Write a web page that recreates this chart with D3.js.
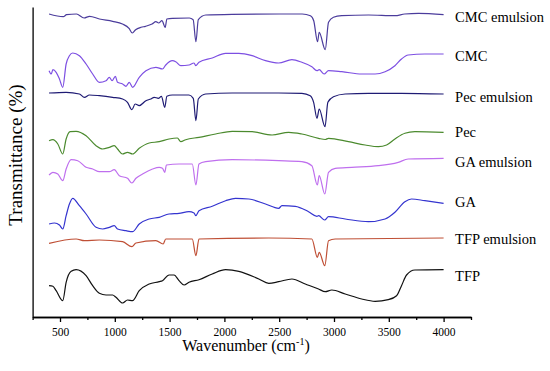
<!DOCTYPE html>
<html lang="en">
<head>
<meta charset="UTF-8">
<script src="https://d3js.org/d3.v7.min.js"></script>
<style>
body { margin: 0; background: #fff; }
svg text { font-family: "Liberation Serif", "Times New Roman", Times, serif; fill: #000; }
.axis path, .axis line { stroke: #000; stroke-width: 1.3; }
.axis text { font-size: 11.5px; font-family: "Liberation Serif", "Times New Roman", Times, serif; }
.spec { fill: none; stroke-width: 1.2; stroke-linejoin: round; }
</style>
</head>
<body>
<svg width="550" height="371"></svg>
<script>
// spectra, [wavenumber cm-1, transmittance (offset, a.u.)]
const cmcEmulsion = [[400,303],[530,300.3],[560,302.3],[650,303],[720,299],[770,300.7],[860,298],[980,295.7],[1070,293],[1130,288.7],[1160,284],[1190,287.3],[1240,289.7],[1280,290.7],[1340,293],[1375,295.3],[1400,294],[1430,296.3],[1460,289.7],[1475,298],[1525,298.7],[1680,299],[1715,297.3],[1740,275.3],[1762,297.3],[1830,302],[2070,302.7],[2500,303],[2710,303],[2785,301.3],[2815,296.3],[2850,275.3],[2865,284.7],[2920,267.3],[2950,294.7],[2995,299.7],[3070,301.3],[3315,302],[3555,301.3],[3645,303],[3770,303.7],[4000,302.3]];
const cmc = [[400,246.3],[420,243],[435,247.3],[465,244.7],[495,238],[525,229.7],[556,253],[586,261.3],[616,264],[677,261.3],[738,253],[798,243],[859,234.7],[920,236.3],[950,239.7],[975,236.3],[1005,240.7],[1025,234.7],[1071,233],[1102,230.7],[1132,234.7],[1162,229.7],[1223,239.7],[1284,246.3],[1375,249.7],[1435,248],[1465,252],[1525,256.3],[1556,255.3],[1602,251.3],[1677,252],[1723,254],[1738,251.3],[1768,254.7],[1889,259],[2011,263.7],[2132,263.7],[2253,261.3],[2375,256.3],[2495,254],[2616,257.3],[2707,254.7],[2798,250.3],[2844,246.3],[2865,247.3],[2910,243],[2950,246.3],[3071,245.3],[3253,243],[3375,243],[3466,245.3],[3556,251.3],[3616,258],[3677,262],[3829,263],[4000,263]];
const pecEmulsion = [[400,224],[556,224.7],[677,223],[723,219.7],[768,222],[859,221.3],[980,219.7],[1071,218],[1116,214.7],[1156,207.3],[1186,213],[1223,211.3],[1284,216.3],[1329,218],[1359,219.7],[1398,218.7],[1425,220.7],[1456,209.7],[1475,220.7],[1525,222],[1677,222],[1716,218.7],[1740,196.3],[1762,218],[1829,223],[2071,224],[2495,224],[2707,223.7],[2783,221.3],[2814,214.7],[2845,198.7],[2865,208],[2918,190.3],[2944,214.7],[2995,220.3],[3102,223],[3314,223.7],[3616,223.7],[4000,223]];
const pec = [[400,176.3],[435,177.3],[480,173],[525,163],[556,178],[593,185.3],[647,185.7],[738,181.3],[829,171.3],[889,168],[950,169.7],[995,171.3],[1025,168],[1071,163],[1116,164.7],[1162,163],[1223,168.7],[1314,174],[1405,175.3],[1495,178],[1571,179],[1602,175.3],[1647,177.3],[1768,179.7],[1920,183],[2071,185.7],[2253,185.3],[2435,182],[2586,184.7],[2707,183],[2859,178.7],[2920,177.5],[2950,178.7],[3132,175.3],[3284,172],[3405,170.3],[3480,172],[3556,178],[3647,183.7],[3738,185.3],[4000,184.7]];
const gaEmulsion = [[400,142],[435,144.7],[480,143],[525,136.3],[556,148],[602,157.3],[662,156.3],[738,149.7],[798,148],[859,145.3],[950,145.3],[995,147.3],[1041,141.3],[1116,138.7],[1156,134],[1193,138.7],[1253,143],[1344,148],[1405,149.7],[1435,148.7],[1456,144.7],[1471,152],[1586,153],[1707,153],[1740,132],[1768,153],[1829,155.3],[2071,157.3],[2495,156.3],[2707,155.3],[2798,151.3],[2848,132],[2865,141.3],[2916,123],[2950,144.7],[3011,148.7],[3162,149.7],[3405,151.3],[3586,154.7],[3677,158],[4000,158.7]];
const ga = [[400,93],[450,94],[495,92],[525,88],[556,101.3],[586,113],[616,118.7],[677,111.3],[738,103],[829,89.7],[889,88],[950,89.7],[995,91.3],[1025,88],[1102,86.3],[1162,85.3],[1223,93],[1314,98],[1405,99.7],[1495,103],[1586,103.7],[1677,105.3],[1723,104],[1738,101.3],[1768,106.3],[1889,110.7],[2011,116.3],[2102,118.7],[2223,118],[2375,113],[2495,108.7],[2525,111.3],[2647,110.7],[2768,105.3],[2844,100.7],[2859,101.3],[2915,97],[2950,100.3],[3102,98],[3314,95.3],[3466,98],[3556,104.7],[3647,115.3],[3707,118],[3829,116.3],[4000,113.7]];
const tfpEmulsion = [[400,73.7],[647,78],[723,76.3],[859,77],[1071,75.3],[1156,70.3],[1193,74],[1375,76.3],[1441,73],[1465,78],[1707,78],[1740,61.3],[1768,78],[2405,79],[2798,78],[2848,59.7],[2865,64.7],[2916,51.3],[2950,76.3],[3011,78],[4000,79]];
const tfp = [[400,31.3],[435,30.7],[465,26.3],[525,16.3],[556,34.7],[602,45.7],[647,47.3],[738,41.3],[798,31.3],[859,23.7],[920,22],[980,22],[1011,19.7],[1071,14],[1116,17],[1162,16.3],[1223,26.3],[1314,33],[1405,35.3],[1435,36.3],[1495,42],[1541,42],[1586,36.3],[1632,32],[1677,34.7],[1768,37.3],[1889,43],[2011,47.3],[2132,45.7],[2314,38],[2405,33.7],[2495,35.3],[2616,38],[2738,33],[2859,28],[2920,25.3],[2980,27],[3102,23],[3253,18],[3375,15.7],[3495,17.3],[3571,21.3],[3616,31.3],[3662,42],[3738,47],[4000,47.3]];

const seriesNames = ["CMC emulsion", "CMC", "Pec emulsion", "Pec", "GA emulsion", "GA", "TFP emulsion", "TFP"];
const seriesData = [cmcEmulsion, cmc, pecEmulsion, pec, gaEmulsion, ga, tfpEmulsion, tfp];
const seriesColors = ["#4b3c9c", "#7d4fe2", "#1f1b74", "#4b8a2e", "#bf6fee", "#3434cf", "#bf4f35", "#111111"];
const labelT = [300, 261, 220, 185, 155, 115, 78, 41.3];
const majorTicks = [500, 1000, 1500, 2000, 2500, 3000, 3500, 4000];
const minorTicks = [250, 750, 1250, 1750, 2250, 2750, 3250, 3750, 4250];

const svg = d3.select("svg");
const margin = {top: 7, right: 79, bottom: 54, left: 32.6};
const width = 550 - margin.left - margin.right,
      height = 371 - margin.top - margin.bottom;

const g = svg.append("g")
    .attr("transform", "translate(" + margin.left + "," + margin.top + ")");

const x = d3.scaleLinear().domain([250, 4250]).range([0, width]);
const y = d3.scaleLinear().domain([0, 310]).range([height, 0]);

// minor ticks first, then the major ones with labels
g.append("g")
    .attr("class", "axis")
    .attr("transform", "translate(0," + height + ")")
    .call(d3.axisBottom(x).tickValues(minorTicks).tickSize(3).tickSizeOuter(0).tickFormat(""));

g.append("g")
    .attr("class", "axis")
    .attr("transform", "translate(0," + height + ")")
    .call(d3.axisBottom(x).tickValues(majorTicks).tickSize(5).tickSizeOuter(0)
      .tickPadding(5.5).tickFormat(d3.format("d")));

g.append("g")
    .attr("class", "axis")
    .call(d3.axisLeft(y).tickValues([]).tickSizeOuter(0));

const line = d3.line()
    .curve(d3.curveMonotoneX)
    .x(function(d) { return x(d[0]); })
    .y(function(d) { return y(d[1]); });

seriesData.forEach(function(s, i) {
  g.append("path")
      .datum(s)
      .attr("class", "spec")
      .attr("stroke", seriesColors[i])
      .attr("d", line);

  g.append("text")
      .attr("x", x(4000) + 11.5)
      .attr("y", y(labelT[i]))
      .attr("dy", "0.35em")
      .style("font-size", "14.5px")
      .text(seriesNames[i]);
});

// axis titles
const xt = svg.append("text")
    .attr("x", 246)
    .attr("y", 351)
    .attr("text-anchor", "middle")
    .style("font-size", "16px");
xt.append("tspan").text("Wavenumber (cm");
xt.append("tspan").attr("dy", -6).style("font-size", "10px").text("-1");
xt.append("tspan").attr("dy", 6).text(")");

svg.append("text")
    .attr("transform", "translate(22,155) rotate(-90)")
    .attr("text-anchor", "middle")
    .style("font-size", "19px")
    .text("Transmittance (%)");
</script>
</body>
</html>
